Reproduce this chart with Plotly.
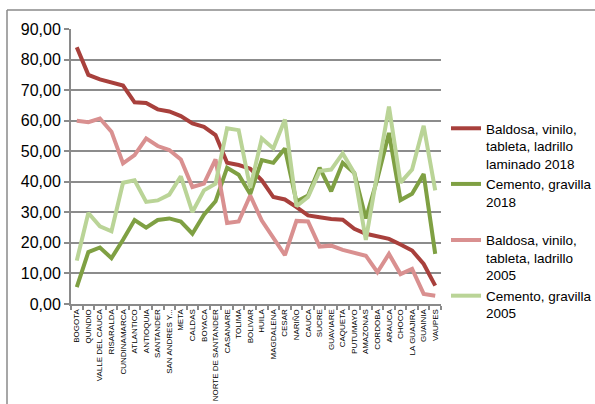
import plotly.graph_objects as go

categories = ["BOGOTA", "QUINDIO", "VALLE DEL CAUCA", "RISARALDA", "CUNDINAMARCA",
              "ATLANTICO", "ANTIOQUIA", "SANTANDER", "SAN ANDRES Y...", "META", "CALDAS",
              "BOYACA", "NORTE DE SANTANDER", "CASANARE", "TOLIMA", "BOLIVAR", "HUILA",
              "MAGDALENA", "CESAR", "NARIÑO", "CAUCA", "SUCRE", "GUAVIARE", "CAQUETA",
              "PUTUMAYO", "AMAZONAS", "CORDOBA", "ARAUCA", "CHOCO", "LA GUAJIRA",
              "GUAINIA", "VAUPES"]

baldosa_2018 = [84, 75, 73.5, 72.5, 71.5, 66, 65.8, 63.7, 63, 61.5, 59.1, 58, 55.3, 46.2,
                45.5, 44.3, 40.5, 35, 34.2, 31.7, 29, 28.4, 27.8, 27.6, 24.6, 23, 22.1,
                21.3, 19.5, 17.5, 13.1, 6]
cemento_2018 = [5.5, 17, 18.5, 15, 21, 27.5, 25, 27.5, 28, 27, 23, 29.2, 33.6, 44.6, 42.3,
                36, 47.1, 46.2, 50.9, 33.5, 35.5, 44.6, 36.9, 46.2, 42.9, 28, 41, 56, 34,
                36.1, 42.5, 16.4]
baldosa_2005 = [60, 59.5, 60.7, 56.4, 46, 48.7, 54.2, 51.7, 50.4, 47.3, 38.3, 39.4, 47.3,
                26.5, 27, 35.5, 27.3, 21.5, 16, 27.2, 27, 18.8, 19.1, 17.7, 16.6, 15.8,
                10.4, 16.4, 9.8, 11.5, 3.3, 2.7]
cemento_2005 = [14.2, 29.8, 25.4, 23.8, 39.7, 40.5, 33.4, 33.9, 35.8, 41.8, 30.1, 37.2,
                39.4, 57.5, 56.9, 38, 54.2, 50.9, 60.4, 32, 35, 43.5, 44, 49.3, 42.9, 21,
                43, 64.6, 39.7, 44, 58.3, 37.2]

y_ticks = [0, 10, 20, 30, 40, 50, 60, 70, 80, 90]
y_ticktext = ["0,00", "10,00", "20,00", "30,00", "40,00", "50,00", "60,00", "70,00",
              "80,00", "90,00"]

series = [
    ("Baldosa, vinilo,<br>tableta, ladrillo<br>laminado 2018", baldosa_2018, "#A8403C", "a"),
    ("Cemento, gravilla<br>2018", cemento_2018, "#7FA043", "a"),
    ("Baldosa, vinilo,<br>tableta, ladrillo<br>2005", baldosa_2005, "#D99090", "b"),
    ("Cemento, gravilla<br>2005", cemento_2005, "#BAD497", "b"),
]

fig = go.Figure()
for name, vals, color, grp in series:
    fig.add_trace(go.Scatter(x=categories, y=vals, mode="lines", name=name,
                             legendgroup=grp,
                             line=dict(color=color, width=4)))

W, H = 595, 404
L, R, T, B = 71, 441, 29, 304

fig.update_layout(
    width=W, height=H,
    margin=dict(l=L, r=W - R, t=T, b=H - B, autoexpand=False),
    paper_bgcolor="white", plot_bgcolor="white",
    font=dict(family="Liberation Sans, Arial, sans-serif", color="black"),
    showlegend=True,
    legend=dict(x=(446 - L) / (R - L), y=(B - 113) / (B - T),
                xanchor="left", yanchor="top",
                font=dict(size=13.5, color="black"),
                valign="top", traceorder="grouped", tracegroupgap=18,
                bgcolor="rgba(0,0,0,0)", borderwidth=0, itemwidth=30),
    xaxis=dict(type="category", range=[-0.5, len(categories) - 0.5], automargin=False,
               showgrid=False, showline=True, linecolor="#8a8a8a", linewidth=2,
               ticks="outside", tickson="boundaries", ticklen=4, tickcolor="#8a8a8a",
               tickwidth=1.5, tickangle=-90, tickfont=dict(size=8), fixedrange=True),
    yaxis=dict(range=[0, 90], tickvals=y_ticks, ticktext=y_ticktext, automargin=False,
               showgrid=True, gridcolor="#8c8c8c", gridwidth=2,
               showline=True, linecolor="#8a8a8a", linewidth=2,
               ticks="outside", ticklen=5, tickcolor="#8a8a8a", tickwidth=1.5,
               tickfont=dict(size=16), zeroline=False),
    shapes=[
        dict(type="line", xref="paper", yref="paper",
             x0=(7 - L) / (R - L), x1=(7 - L) / (R - L),
             y0=(B - 10) / (B - T), y1=(B - 410) / (B - T),
             line=dict(color="#8a8a8a", width=1.5)),
        dict(type="line", xref="paper", yref="paper",
             x0=(7 - L) / (R - L), x1=(600 - L) / (R - L),
             y0=(B - 10) / (B - T), y1=(B - 10) / (B - T),
             line=dict(color="#8a8a8a", width=1.5)),
    ],
)

fig.write_html("out.html")
